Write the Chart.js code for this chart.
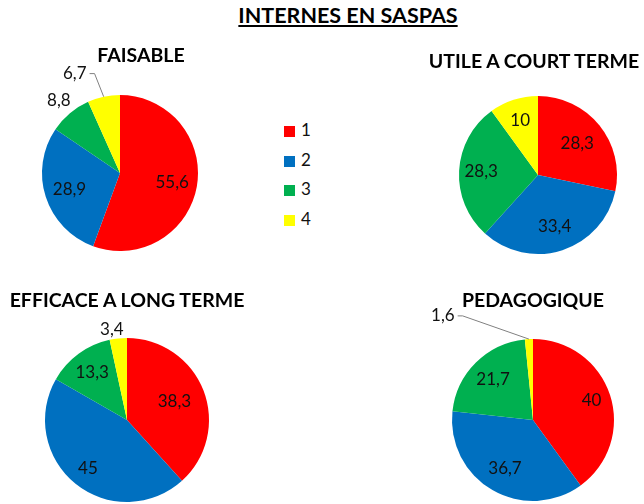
<!DOCTYPE html>
<html>
<head>
<meta charset="utf-8">
<script src="https://cdn.jsdelivr.net/npm/chart.js@4"></script>
<style>
  html, body { margin: 0; padding: 0; background: #fff; }
  #page { position: relative; width: 644px; height: 504px; overflow: hidden; font-family: Lato, "Liberation Sans", sans-serif; }
  .pie { position: absolute; width: 320px; height: 320px; }
  .ttl { position: absolute; transform: translateX(-50%); white-space: nowrap; font-weight: bold; font-size: 19.5px; color: #000; line-height: 1; }
  #main { font-size: 21.5px; text-decoration: underline; text-decoration-thickness: 2px; text-underline-offset: 2px; }
  .leg { position: absolute; left: 284px; font-size: 17px; line-height: 1; color: #111; }
  .leg span { display: inline-block; width: 11px; height: 11px; margin-right: 6px; vertical-align: -1px; }
</style>
</head>
<body>
<div id="page">
  <div class="ttl" id="main" style="left:348px;top:5px">INTERNES EN SASPAS</div>
</div>
<script>
const categories = ['1', '2', '3', '4'];
const colors = ['#FF0000', '#0070C0', '#00B050', '#FFFF00'];

const titles = ['FAISABLE', 'UTILE A COURT TERME', 'EFFICACE A LONG TERME', 'PEDAGOGIQUE'];
const faisable = [55.6, 28.9, 8.8, 6.7];
const utile = [28.3, 33.4, 28.3, 10];
const efficace = [38.3, 45, 13.3, 3.4];
const pedagogique = [40, 36.7, 21.7, 1.6];

// layout of each pie: center, radius, title position, label tweaks
const pies = [
  { data: faisable, cx: 120, cy: 173, r: 78, tx: 141, ty: 45,
    lab: [0.68, 0.68, { d: 1.22 }, { d: 1.40, shift: -12.4, line: true }] },
  { data: utile, cx: 538, cy: 175, r: 79, tx: 534, ty: 51,
    lab: [0.64, 0.68, 0.72, 0.73] },
  { data: efficace, cx: 127, cy: 420, r: 82, tx: 127, ty: 290,
    lab: [0.62, 0.76, 0.72, { d: 1.12, shift: -3.4 }] },
  { data: pedagogique, cx: 533, cy: 420, r: 81, tx: 533, ty: 290,
    lab: [0.76, 0.69, 0.70, { d: 1.70, shift: -38, line: true }] }
];

const fmt = v => String(v).replace('.', ',');

const labelPlugin = {
  id: 'sliceLabels',
  afterDatasetsDraw(chart, args, opts) {
    const ctx = chart.ctx;
    const meta = chart.getDatasetMeta(0);
    const values = chart.data.datasets[0].data;
    ctx.save();
    ctx.font = '17px Lato, "Liberation Sans", sans-serif';
    ctx.fillStyle = '#111';
    ctx.textAlign = 'center';
    ctx.textBaseline = 'middle';
    meta.data.forEach((arc, i) => {
      const p = arc.getProps(['x', 'y', 'startAngle', 'endAngle', 'outerRadius'], true);
      const mid = (p.startAngle + p.endAngle) / 2;
      let cfg = opts.lab[i];
      if (typeof cfg === 'number') cfg = { d: cfg };
      const a = mid + (cfg.shift || 0) * Math.PI / 180;
      const lx = p.x + Math.cos(a) * p.outerRadius * cfg.d;
      const ly = p.y + Math.sin(a) * p.outerRadius * cfg.d;
      const txt = fmt(values[i]);
      ctx.fillText(txt, lx, ly);
      if (cfg.line) {
        const w = ctx.measureText(txt).width;
        const sx = lx + w / 2 + 3;
        const ex = p.x + Math.cos(mid) * p.outerRadius;
        const ey = p.y + Math.sin(mid) * p.outerRadius;
        ctx.strokeStyle = '#808080';
        ctx.lineWidth = 1;
        ctx.beginPath();
        ctx.moveTo(sx, ly);
        ctx.lineTo(sx + 5, ly);
        ctx.lineTo(ex, ey);
        ctx.stroke();
      }
    });
    ctx.restore();
  }
};

const page = document.getElementById('page');
const BOX = 320;

pies.forEach((pie, k) => {
  const wrap = document.createElement('div');
  wrap.className = 'pie';
  wrap.style.left = (pie.cx - BOX / 2) + 'px';
  wrap.style.top = (pie.cy - BOX / 2) + 'px';
  const cv = document.createElement('canvas');
  cv.width = BOX;
  cv.height = BOX;
  wrap.appendChild(cv);
  page.appendChild(wrap);

  const t = document.createElement('div');
  t.className = 'ttl';
  t.style.left = pie.tx + 'px';
  t.style.top = pie.ty + 'px';
  t.textContent = titles[k];
  page.appendChild(t);

  const pad = BOX / 2 - pie.r;
  new Chart(cv, {
    type: 'pie',
    data: {
      labels: categories,
      datasets: [{ data: pie.data, backgroundColor: colors, borderWidth: 0 }]
    },
    options: {
      responsive: false,
      animation: false,
      layout: { padding: pad },
      plugins: {
        legend: { display: false },
        tooltip: { enabled: false },
        sliceLabels: { lab: pie.lab }
      }
    },
    plugins: [labelPlugin]
  });
});

// legend
const rowY = [121, 151, 180, 210];
categories.forEach((c, i) => {
  const d = document.createElement('div');
  d.className = 'leg';
  d.style.top = rowY[i] + 'px';
  const sq = document.createElement('span');
  sq.style.background = colors[i];
  d.appendChild(sq);
  d.appendChild(document.createTextNode(c));
  page.appendChild(d);
});
</script>
</body>
</html>
